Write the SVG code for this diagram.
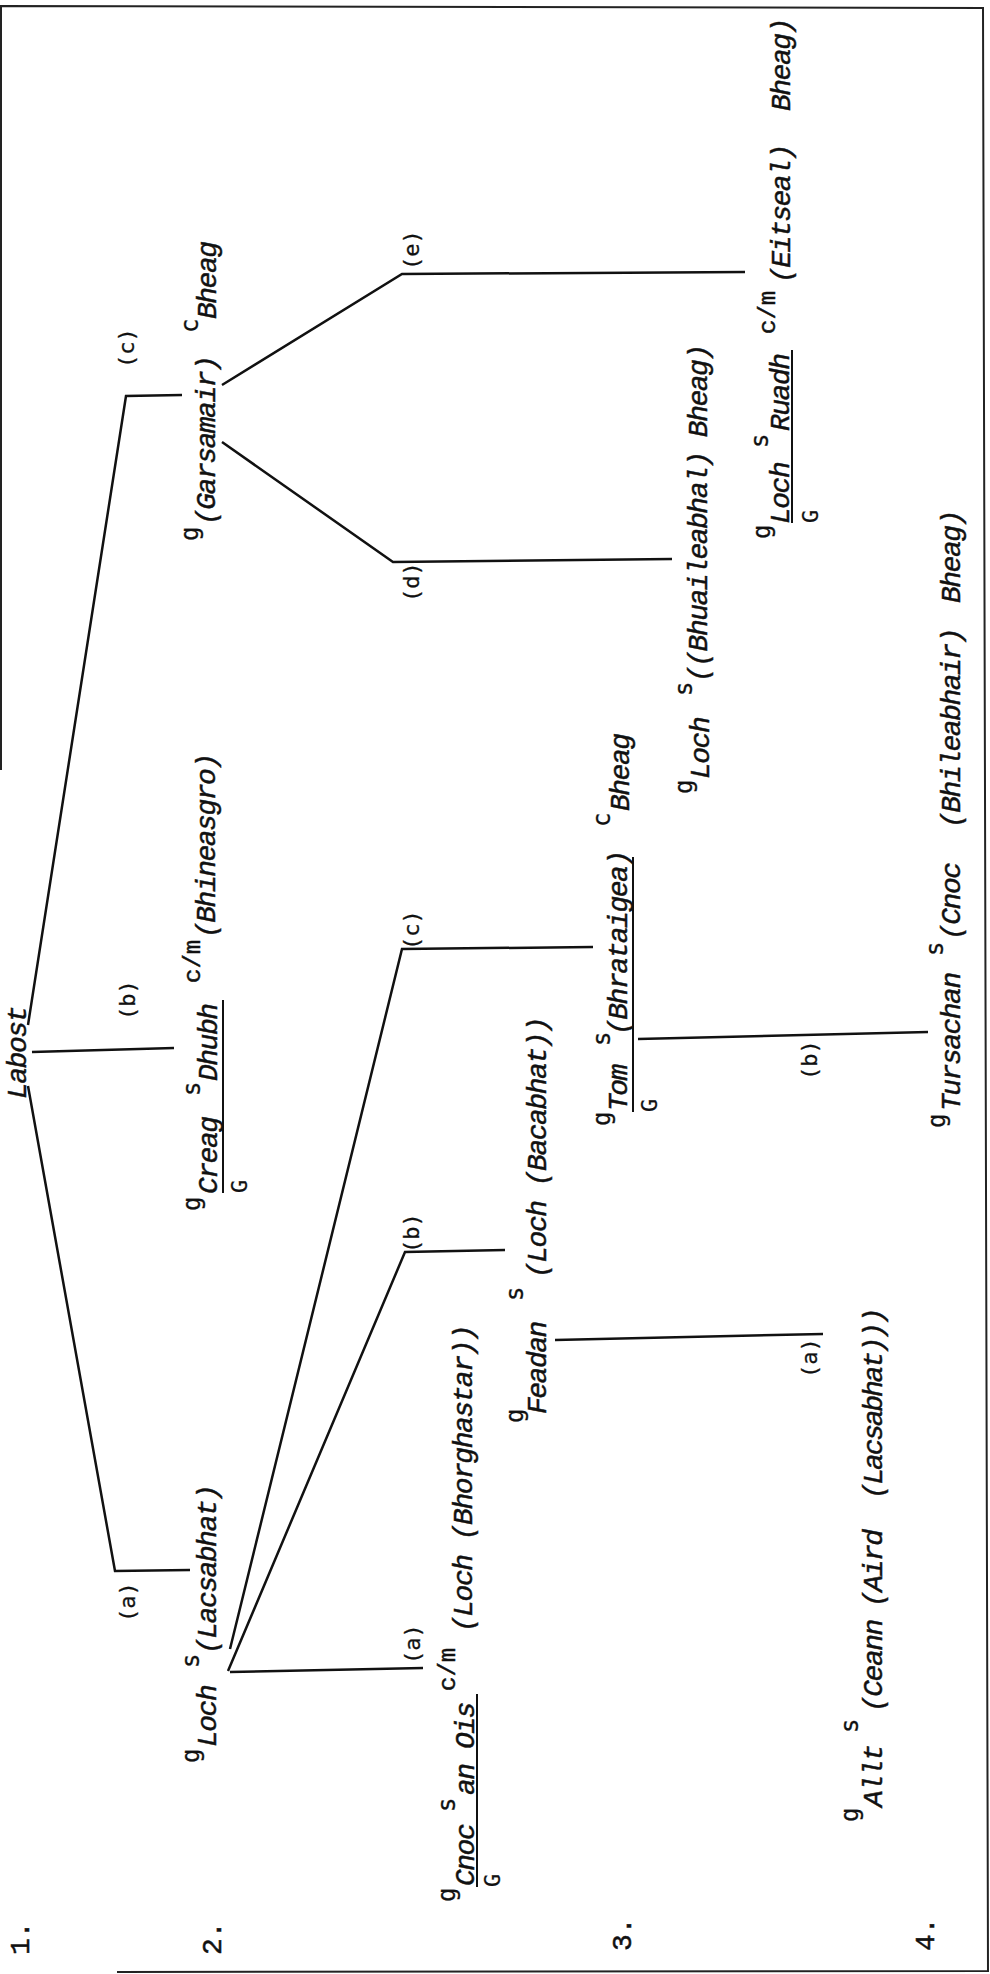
<svg xmlns="http://www.w3.org/2000/svg" width="990" height="1974" viewBox="0 0 990 1974">
<style>
text { fill:#111; }
.it { font-family:"Liberation Mono", monospace; font-style:italic; font-size:28px; letter-spacing:-1.5px; stroke:#111; stroke-width:0.45px; }
.sup { font-family:"DejaVu Sans Mono", monospace; font-size:24px; stroke:#111; stroke-width:0.3px; }
.cm { font-family:"Liberation Mono", monospace; font-size:24px; stroke:#111; stroke-width:0.45px; }
.lbl { font-family:"DejaVu Sans Mono", monospace; font-size:22px; stroke:#111; stroke-width:0.3px; }
.num { font-family:"Liberation Mono", monospace; font-size:28px; stroke:#111; stroke-width:0.5px; }
.ln { stroke:#111; stroke-width:2.5; fill:none; stroke-linejoin:miter; }
.ul { stroke:#111; stroke-width:2; }
.frame { stroke:#222; stroke-width:2; fill:none; }
</style>
<rect width="990" height="1974" fill="#fff"/>
<g id="frame">
<polyline class="frame" points="1,770 1,6 983,8 988,1971 117,1972"/>
</g>
<g id="connectors">
<polyline class="ln" points="182,395 126,396 28,1025"/>
<polyline class="ln" points="32,1052 174,1048"/>
<polyline class="ln" points="28,1086 115,1571 190,1570"/>
<polyline class="ln" points="222,385 402,274 745,272"/>
<polyline class="ln" points="222,442 393,562 672,559"/>
<polyline class="ln" points="230,1649 402,949 593,947"/>
<polyline class="ln" points="228,1671 405,1252 505,1250"/>
<polyline class="ln" points="230,1672 423,1668"/>
<polyline class="ln" points="555,1340 823,1334"/>
<polyline class="ln" points="638,1039 928,1032"/>
</g>
<g id="labels">
<text class="lbl" transform="translate(134,368) rotate(-90)">(c)</text>
<text class="lbl" transform="translate(135,1020) rotate(-90)">(b)</text>
<text class="lbl" transform="translate(135,1622) rotate(-90)">(a)</text>
<text class="lbl" transform="translate(419,270) rotate(-90)">(e)</text>
<text class="lbl" transform="translate(419,602) rotate(-90)">(d)</text>
<text class="lbl" transform="translate(419,950) rotate(-90)">(c)</text>
<text class="lbl" transform="translate(419,1253) rotate(-90)">(b)</text>
<text class="lbl" transform="translate(420,1664) rotate(-90)">(a)</text>
<text class="lbl" transform="translate(817,1378) rotate(-90)">(a)</text>
<text class="lbl" transform="translate(817,1080) rotate(-90)">(b)</text>
</g>
<g id="levels">
<text class="num" transform="translate(29,1955) rotate(-90)">1.</text>
<text class="num" transform="translate(221,1955) rotate(-90)">2.</text>
<text class="num" transform="translate(631,1951) rotate(-90)">3.</text>
<text class="num" transform="translate(934,1951) rotate(-90)">4.</text>
</g>
<g id="n-labost">
<text class="it" transform="translate(26,1099) rotate(-90)">Labost</text>
</g>
<g id="n-loch-lacsabhat">
<text transform="translate(216,1763) rotate(-90)"><tspan class="sup" x="0" y="-17">g</tspan><tspan class="it" x="16" y="0">Loch</tspan><tspan class="sup" x="95" y="-17">s</tspan><tspan class="it" x="109" y="0">(Lacsabhat)</tspan></text>
</g>
<g id="n-creag-dhubh">
<text transform="translate(217,1211) rotate(-90)"><tspan class="sup" x="0" y="-17">g</tspan><tspan class="it" x="17" y="0">Creag</tspan><tspan class="sup" x="115" y="-17">s</tspan><tspan class="it" x="130" y="0">Dhubh</tspan><tspan class="cm" x="228" y="-17">c/m</tspan><tspan class="it" x="273" y="-2">(Bhineasgro)</tspan><tspan class="lbl" x="18" y="30">G</tspan></text>
<line class="ul" x1="223" y1="1193" x2="223" y2="1000"/>
</g>
<g id="n-garsamair">
<text transform="translate(215,541) rotate(-90)"><tspan class="sup" x="0" y="-17">g</tspan><tspan class="it" x="16" y="0">(Garsamair)</tspan><tspan class="sup" x="208" y="-17">c</tspan><tspan class="it" x="222" y="1">Bheag</tspan></text>
</g>
<g id="n-cnoc-an-ois">
<text transform="translate(474,1902) rotate(-90)"><tspan class="sup" x="0" y="-19">g</tspan><tspan class="it" x="16" y="0">Cnoc</tspan><tspan class="sup" x="90" y="-19">s</tspan><tspan class="it" x="107" y="0">an Ois</tspan><tspan class="lbl" x="15" y="26">G</tspan><tspan class="cm" x="211" y="-19">c/m</tspan><tspan class="it" x="270" y="-2">(Loch (Bhorghastar))</tspan></text>
<line class="ul" x1="477" y1="1887" x2="477" y2="1694"/>
</g>
<g id="n-feadan">
<text transform="translate(546,1424) rotate(-90)"><tspan class="sup" x="1" y="-23">g</tspan><tspan class="it" x="10" y="0">Feadan</tspan><tspan class="sup" x="123" y="-23">s</tspan><tspan class="it" x="146" y="0">(Loch (Bacabhat))</tspan></text>
</g>
<g id="n-tom">
<text transform="translate(627,1126) rotate(-90)"><tspan class="sup" x="0" y="-17">g</tspan><tspan class="it" x="15" y="0">Tom</tspan><tspan class="sup" x="80" y="-17">s</tspan><tspan class="it" x="91" y="0">(Bhrataigea)</tspan><tspan class="lbl" x="14" y="30">G</tspan><tspan class="sup" x="299" y="-17">c</tspan><tspan class="it" x="315" y="2">Bheag</tspan></text>
<line class="ul" x1="633" y1="1112" x2="633" y2="857"/>
</g>
<g id="n-loch-bhuaileabhal">
<text transform="translate(709,794) rotate(-90)"><tspan class="sup" x="0" y="-17">g</tspan><tspan class="it" x="15" y="0">Loch</tspan><tspan class="sup" x="98" y="-17">s</tspan><tspan class="it" x="112" y="-2">((Bhuaileabhal) Bheag)</tspan></text>
</g>
<g id="n-loch-ruadh">
<text transform="translate(789,539) rotate(-90)"><tspan class="sup" x="0" y="-19">g</tspan><tspan class="it" x="15" y="0">Loch</tspan><tspan class="sup" x="91" y="-21">s</tspan><tspan class="it" x="108" y="0">Ruadh</tspan><tspan class="lbl" x="16" y="29">G</tspan><tspan class="cm" x="205" y="-14">c/m</tspan><tspan class="it" x="256" y="1">(Eitseal)</tspan><tspan class="it" x="428" y="1">Bheag)</tspan></text>
<line class="ul" x1="792" y1="523" x2="792" y2="350"/>
</g>
<g id="n-tursachan">
<text transform="translate(960,1128) rotate(-90)"><tspan class="sup" x="0" y="-15">g</tspan><tspan class="it" x="17" y="0">Tursachan</tspan><tspan class="sup" x="172" y="-17">s</tspan><tspan class="it" x="188" y="0">(Cnoc</tspan><tspan class="it" x="300" y="0">(Bhileabhair)</tspan><tspan class="it" x="525" y="0">Bheag)</tspan></text>
</g>
<g id="n-allt">
<text transform="translate(882,1822) rotate(-90)"><tspan class="sup" x="0" y="-24">g</tspan><tspan class="it" x="15" y="0">Allt</tspan><tspan class="sup" x="89" y="-24">s</tspan><tspan class="it" x="110" y="0">(Ceann</tspan><tspan class="it" x="215" y="0">(Aird</tspan><tspan class="it" x="323" y="0" textLength="190">(Lacsabhat)))</tspan></text>
</g>
</svg>
